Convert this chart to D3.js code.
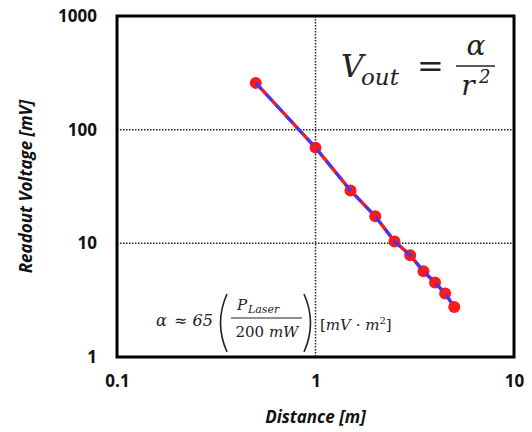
<!DOCTYPE html>
<html>
<head>
<meta charset="utf-8">
<script src="https://cdn.jsdelivr.net/npm/d3@7"></script>
<style>
body { margin: 0; background: #fff; }
svg { display: block; }
.tick text { font-family: "Open Sans", sans-serif; font-weight: bold; font-size: 17px; fill: #111; }
.math { font-family: "DejaVu Serif", serif; font-style: italic; fill: #222; }
</style>
</head>
<body>
<script>
var distances = [0.5, 1, 1.5, 2, 2.5, 3, 3.5, 4, 4.5, 5];
var voltages = [258, 69.5, 29.2, 17.3, 10.4, 7.85, 5.68, 4.52, 3.62, 2.76];
var xTicks = [0.1, 1, 10];
var yTicks = [1, 10, 100, 1000];

var width = 532, height = 432;
var margin = {left: 117, right: 18, top: 16, bottom: 75};

var svg = d3.select('body').append('svg')
    .attr('width', width)
    .attr('height', height);

var x = d3.scaleLog()
    .domain([0.1, 10])
    .range([margin.left, width - margin.right]);
var y = d3.scaleLog()
    .domain([1, 1000])
    .range([height - margin.bottom, margin.top]);

// dotted grid
svg.selectAll('line.vgrid')
    .data([1])
    .enter().append('line')
    .attr('class', 'vgrid')
    .attr('x1', function(d) { return x(d); })
    .attr('x2', function(d) { return x(d); })
    .attr('y1', y(1000))
    .attr('y2', y(1))
    .attr('stroke', '#222')
    .attr('stroke-width', 1.5)
    .attr('stroke-dasharray', '1.5,1.5');
svg.selectAll('line.hgrid')
    .data([10, 100])
    .enter().append('line')
    .attr('class', 'hgrid')
    .attr('y1', function(d) { return y(d); })
    .attr('y2', function(d) { return y(d); })
    .attr('x1', x(0.1))
    .attr('x2', x(10))
    .attr('stroke', '#222')
    .attr('stroke-width', 1.5)
    .attr('stroke-dasharray', '1.5,1.5');

// axes
var xAxis = d3.axisBottom(x).tickValues(xTicks).tickSize(0).tickPadding(18)
    .tickFormat(function(d) { return d < 1 ? '0.1' : d3.format('d')(d); });
var yAxis = d3.axisLeft(y).tickValues(yTicks).tickSize(0).tickPadding(20)
    .tickFormat(d3.format('d'));
svg.append('g')
    .attr('transform', 'translate(0,' + y(1) + ')')
    .call(xAxis)
    .call(function(g) { g.select('.domain').remove(); });
svg.append('g')
    .attr('transform', 'translate(' + x(0.1) + ',0)')
    .call(yAxis)
    .call(function(g) { g.select('.domain').remove(); });

// frame
svg.append('rect')
    .attr('x', x(0.1))
    .attr('y', y(1000))
    .attr('width', x(10) - x(0.1))
    .attr('height', y(1) - y(1000))
    .attr('fill', 'none')
    .attr('stroke', '#000')
    .attr('stroke-width', 3);

// data line + markers
var line = d3.line()
    .x(function(d, i) { return x(distances[i]); })
    .y(function(d) { return y(d); });
svg.append('path')
    .datum(voltages)
    .attr('d', line)
    .attr('fill', 'none')
    .attr('stroke', '#ff1a1a')
    .attr('stroke-width', 3.5);

svg.selectAll('circle')
    .data(voltages)
    .enter().append('circle')
    .attr('cx', function(d, i) { return x(distances[i]); })
    .attr('cy', function(d) { return y(d); })
    .attr('r', 6)
    .attr('fill', '#ff1a1a');

// blue dashed trend on top
svg.append('path')
    .datum(voltages)
    .attr('d', line)
    .attr('fill', 'none')
    .attr('stroke', '#3a3aff')
    .attr('stroke-width', 3)
    .attr('stroke-dasharray', '9,6');

// axis titles
svg.append('text')
    .attr('x', x(1))
    .attr('y', 423)
    .attr('text-anchor', 'middle')
    .attr('font-family', '"Open Sans", sans-serif')
    .attr('font-weight', 'bold')
    .attr('font-style', 'italic')
    .attr('font-size', 17)
    .attr('fill', '#111')
    .text('Distance [m]');
svg.append('text')
    .attr('transform', 'translate(32,' + ((y(1) + y(1000)) / 2) + ') rotate(-90)')
    .attr('text-anchor', 'middle')
    .attr('font-family', '"Open Sans", sans-serif')
    .attr('font-weight', 'bold')
    .attr('font-style', 'italic')
    .attr('font-size', 17)
    .attr('fill', '#111')
    .text('Readout Voltage [mV]');

// V_out = alpha / r^2
var eq = svg.append('g');
eq.append('text').attr('class', 'math')
    .attr('x', 341).attr('y', 77).attr('font-size', 31).text('V');
eq.append('text').attr('class', 'math')
    .attr('x', 361).attr('y', 85).attr('font-size', 23).text('out');
eq.append('text').attr('class', 'math').attr('font-style', 'normal')
    .attr('x', 417).attr('y', 77).attr('font-size', 32).text('=');
eq.append('text').attr('class', 'math')
    .attr('x', 476).attr('y', 55).attr('font-size', 28)
    .attr('text-anchor', 'middle').text('α');
eq.append('line')
    .attr('x1', 456).attr('x2', 495).attr('y1', 66).attr('y2', 66)
    .attr('stroke', '#222').attr('stroke-width', 1.5);
eq.append('text').attr('class', 'math')
    .attr('x', 468).attr('y', 95).attr('font-size', 28)
    .attr('text-anchor', 'middle').text('r');
eq.append('text').attr('class', 'math').attr('font-style', 'normal')
    .attr('x', 479).attr('y', 83).attr('font-size', 18).text('2');

// alpha ≈ 65 (P_Laser / 200 mW) [mV · m^2]
var a = svg.append('g');
a.append('text').attr('class', 'math')
    .attr('x', 156).attr('y', 326).attr('font-size', 16).text('α');
a.append('text').attr('class', 'math').attr('font-style', 'normal')
    .attr('x', 174).attr('y', 326).attr('font-size', 16).text('≈ 65');
function paren(x0, dir) {
    var top = 294, bot = 352, mid = (top + bot) / 2;
    return 'M' + x0 + ',' + top + ' Q' + (x0 - dir * 13) + ',' + mid + ' ' + x0 + ',' + bot;
}
a.append('path').attr('d', paren(227, 1))
    .attr('fill', 'none').attr('stroke', '#222').attr('stroke-width', 1.6);
a.append('path').attr('d', paren(304, -1))
    .attr('fill', 'none').attr('stroke', '#222').attr('stroke-width', 1.6);
a.append('text').attr('class', 'math')
    .attr('x', 237).attr('y', 310).attr('font-size', 15).text('P');
a.append('text').attr('class', 'math')
    .attr('x', 248).attr('y', 313).attr('font-size', 11).text('Laser');
a.append('line')
    .attr('x1', 231).attr('x2', 302).attr('y1', 318).attr('y2', 318)
    .attr('stroke', '#222').attr('stroke-width', 1.2);
var den = a.append('text').attr('class', 'math')
    .attr('x', 267).attr('y', 337).attr('font-size', 15).attr('text-anchor', 'middle');
den.append('tspan').attr('font-style', 'normal').text('200 ');
den.append('tspan').text('mW');
var br = a.append('text').attr('class', 'math')
    .attr('x', 320).attr('y', 330).attr('font-size', 15);
br.append('tspan').attr('font-style', 'normal').text('[');
br.append('tspan').text('mV');
br.append('tspan').attr('font-style', 'normal').text(' · ');
br.append('tspan').text('m');
br.append('tspan').attr('font-style', 'normal').attr('font-size', 10).attr('dy', -6).text('2');
br.append('tspan').attr('font-style', 'normal').attr('dy', 6).text(']');
</script>
</body>
</html>
